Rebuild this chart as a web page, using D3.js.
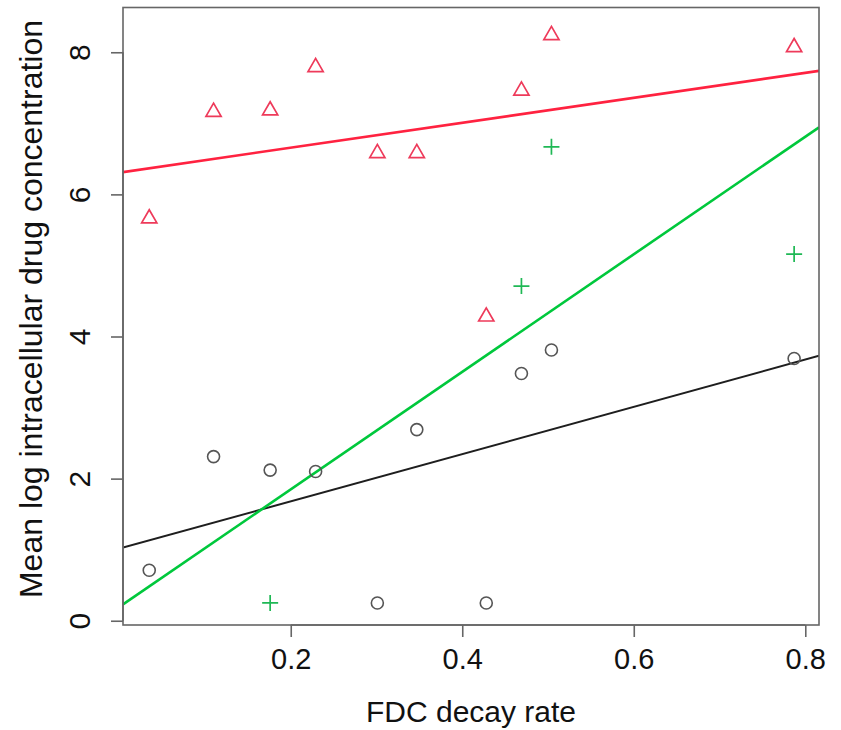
<!DOCTYPE html>
<html>
<head>
<meta charset="utf-8">
<script src="https://cdn.jsdelivr.net/npm/d3@7"></script>
<style>
  html, body { margin: 0; padding: 0; background: #fff; }
  svg text { font-family: "Liberation Sans", Arial, sans-serif; fill: #111; }
</style>
</head>
<body>
<svg id="chart" width="841" height="730"></svg>
<script>
// FDC decay rate shared by the circle and triangle groups
const decayRate = [0.035, 0.110, 0.176, 0.229, 0.301, 0.347, 0.428, 0.469, 0.504, 0.787];
// Mean log intracellular drug concentration, circle group (black)
const circleConc = [0.71, 2.31, 2.12, 2.10, 0.25, 2.69, 0.25, 3.48, 3.81, 3.69];
// triangle group (red)
const triangleConc = [5.66, 7.16, 7.18, 7.79, 6.58, 6.58, 4.28, 7.46, 8.24, 8.07];
// plus group (green)
const plusRate = [0.176, 0.469, 0.504, 0.787];
const plusConc = [0.25, 4.71, 6.67, 5.16];

const xTicks = [0.2, 0.4, 0.6, 0.8];
const yTicks = [0, 2, 4, 6, 8];

const svg = d3.select("#chart");
const plotLeft = 123, plotRight = 819, plotTop = 7.5, plotBottom = 625;

const x = d3.scaleLinear().domain([0.0044, 0.816]).range([plotLeft, plotRight]);
const y = d3.scaleLinear().domain([-0.06, 8.63]).range([plotBottom, plotTop]);

const pairs = (xs, ys) => xs.map((v, i) => ({ x: v, y: ys[i] }));
const groups = [
  { pts: pairs(decayRate, circleConc), shape: "circle", mark: "#555", line: "#1e1e1e", lw: 2 },
  { pts: pairs(decayRate, triangleConc), shape: "triangle", mark: "#ee3a5a", line: "#ff2240", lw: 2.6 },
  { pts: pairs(plusRate, plusConc), shape: "plus", mark: "#1fb855", line: "#00c83c", lw: 2.6 }
];

// ordinary least-squares fit for each group
function fit(pts) {
  const mx = d3.mean(pts, d => d.x), my = d3.mean(pts, d => d.y);
  const sxy = d3.sum(pts, d => (d.x - mx) * (d.y - my));
  const sxx = d3.sum(pts, d => (d.x - mx) ** 2);
  const b = sxy / sxx;
  return { a: my - b * mx, b };
}

svg.append("defs").append("clipPath").attr("id", "plotClip")
  .append("rect").attr("x", plotLeft).attr("y", plotTop)
  .attr("width", plotRight - plotLeft).attr("height", plotBottom - plotTop);

// fitted lines across the whole plotting region
const lineLayer = svg.append("g").attr("clip-path", "url(#plotClip)");
const [d0, d1] = x.domain();
groups.forEach(g => {
  const f = fit(g.pts);
  lineLayer.append("line")
    .attr("x1", x(d0)).attr("y1", y(f.a + f.b * d0))
    .attr("x2", x(d1)).attr("y2", y(f.a + f.b * d1))
    .attr("stroke", g.line).attr("stroke-width", g.lw);
});

// point markers
function markerPath(shape) {
  if (shape === "triangle") {
    const xc = 7.6, r = xc * 1.5551 / 1.3468, yc = r / 2;
    return `M0,${-r}L${xc},${yc}L${-xc},${yc}Z`;
  }
  if (shape === "plus") return "M-8,0H8M0,-8V8";
  return null;
}
groups.forEach(g => {
  const layer = svg.append("g");
  if (g.shape === "circle") {
    layer.selectAll("circle").data(g.pts).join("circle")
      .attr("cx", d => x(d.x)).attr("cy", d => y(d.y)).attr("r", 6)
      .attr("fill", "none").attr("stroke", g.mark).attr("stroke-width", 1.6);
  } else {
    layer.selectAll("path").data(g.pts).join("path")
      .attr("transform", d => `translate(${x(d.x)},${y(d.y)})`)
      .attr("d", markerPath(g.shape))
      .attr("fill", "none").attr("stroke", g.mark).attr("stroke-width", 1.7);
  }
});

// frame
svg.append("rect").attr("x", plotLeft).attr("y", plotTop)
  .attr("width", plotRight - plotLeft).attr("height", plotBottom - plotTop)
  .attr("fill", "none").attr("stroke", "#666").attr("stroke-width", 1.6);

// x axis
const xAxis = svg.append("g").attr("transform", `translate(0,${plotBottom})`)
  .call(d3.axisBottom(x).tickValues(xTicks).tickFormat(d3.format(".1f"))
    .tickSizeInner(12).tickSizeOuter(0).tickPadding(16));
xAxis.select(".domain").attr("stroke", "#666").attr("stroke-width", 1.6)
  .attr("d", `M${x(xTicks[0])},0H${x(xTicks[xTicks.length - 1])}`);
xAxis.selectAll(".tick line").attr("stroke", "#666").attr("stroke-width", 1.6);
xAxis.selectAll(".tick text").attr("font-size", 29).attr("fill", "#111")
  .attr("dy", null).attr("y", 44);

// y axis with rotated labels
const yAxis = svg.append("g").attr("transform", `translate(${plotLeft},0)`)
  .call(d3.axisLeft(y).tickValues(yTicks).tickFormat(d3.format("d"))
    .tickSizeInner(12).tickSizeOuter(0));
yAxis.select(".domain").attr("stroke", "#666").attr("stroke-width", 1.6)
  .attr("d", `M0,${y(yTicks[0])}V${y(yTicks[yTicks.length - 1])}`);
yAxis.selectAll(".tick line").attr("stroke", "#666").attr("stroke-width", 1.6);
yAxis.selectAll(".tick text")
  .attr("font-size", 30).attr("fill", "#111")
  .attr("x", null).attr("dy", null)
  .attr("text-anchor", "middle")
  .attr("transform", "translate(-33,0) rotate(-90)");

// axis titles
svg.append("text").attr("x", (plotLeft + plotRight) / 2).attr("y", 722)
  .attr("text-anchor", "middle").attr("font-size", 30)
  .text("FDC decay rate");
svg.append("text").attr("transform", "translate(42,309) rotate(-90)")
  .attr("text-anchor", "middle").attr("font-size", 32)
  .text("Mean log intracellular drug concentration");
</script>
</body>
</html>
